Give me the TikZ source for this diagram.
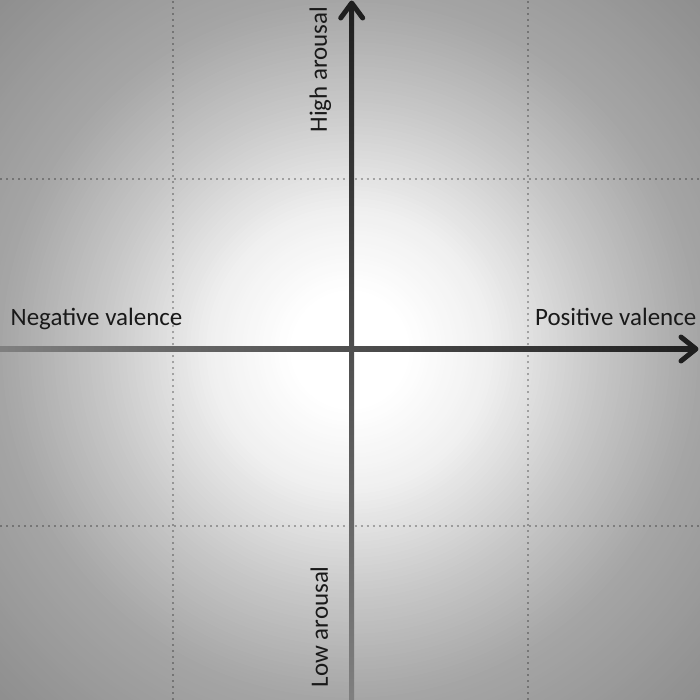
\documentclass[tikz,border=0pt]{standalone}
\usepackage{fontspec}
\setmainfont{Carlito}
\usetikzlibrary{positioning}
\tikzstyle{gridline} = [
    black,
    opacity=0.28,
    line width=0.57pt,
    dash pattern=on 0.57pt off 1.14pt
]
\tikzstyle{axislabel} = [
    inner sep=0pt,
    text=black!90,
    font=\fontsize{7.1}{8.5}\selectfont
]
\tikzstyle{arrowhead} = [
    black!88,
    line width=1.42pt,
    line cap=round,
    line join=round
]
% grey level (percent black) at radius r (in px)
\newcommand{\glowlevel}[1]{%
    \pgfmathsetmacro{\glow}{6*min(max((#1-60)/81,0),1)
        + 16*min(max((#1-141)/109,0),1)
        + 13*min(max((#1-250)/100,0),1)
        + 9*min(max((#1-350)/145,0),1)}}

\begin{document}
\begin{tikzpicture}

\useasboundingbox (0,0) rectangle (7,7);

% background glow
\begin{scope}
\clip (0,0) rectangle (7,7);
\foreach \r in {496,492,...,4} {
    \glowlevel{\r}
    \fill [black!\glow!white] (3.5,3.5) circle (\r*0.01);
}
\end{scope}

% grid
\foreach \x in {1.735, 5.28}
    \draw [gridline] (\x,0) -- (\x,7);
\foreach \y in {1.74, 5.215}
    \draw [gridline] (0,\y) -- (7,\y);

\coordinate (west) at (0,3.51);
\coordinate (east) at (6.96,3.51);
\coordinate (south) at (3.517,0);
\coordinate (north) at (3.517,6.97);

% axes
\shade [left color=black!50, right color=black!88]
    ([yshift=-0.025cm]west) rectangle ([xshift=-0.02cm, yshift=0.025cm]east);
\shade [bottom color=black!50, top color=black!88]
    ([xshift=-0.025cm]south) rectangle ([xshift=0.025cm, yshift=-0.02cm]north);

\draw [arrowhead] ([xshift=-0.15cm, yshift=0.12cm]east) -- (east)
    -- ([xshift=-0.15cm, yshift=-0.12cm]east);
\draw [arrowhead] ([xshift=-0.11cm, yshift=-0.15cm]north) -- (north)
    -- ([xshift=0.11cm, yshift=-0.15cm]north);

% labels
\node (neg) [axislabel, anchor=base west] at (0.10,3.75) {Negative valence};
\node (pos) [axislabel, anchor=base east] at (6.97,3.75) {Positive valence};
\node (high) [axislabel, anchor=base west, rotate=90] at (3.27,5.67) {High arousal};
\node (low) [axislabel, anchor=base west, rotate=90] at (3.28,0.12) {Low arousal};

\end{tikzpicture}
\end{document}
